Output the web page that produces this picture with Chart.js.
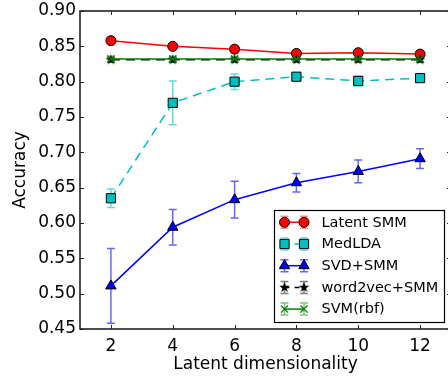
<!DOCTYPE html>
<html><head><meta charset="utf-8">
<script src="https://cdn.jsdelivr.net/npm/chart.js@4"></script>
<style>html,body{margin:0;padding:0;overflow:hidden;background:#fff;}#wrap{position:absolute;left:0;top:0;width:452px;height:381px;}</style>
</head><body><div id="wrap"><canvas id="c" width="452" height="381"></canvas></div>
<script>
const dims = [2, 4, 6, 8, 10, 12];
const yTicks = [0.45, 0.50, 0.55, 0.60, 0.65, 0.70, 0.75, 0.80, 0.85, 0.90];
const seriesNames = ['Latent SMM', 'MedLDA', 'SVD+SMM', 'word2vec+SMM', 'SVM(rbf)'];
const latentSMM = [0.858, 0.850, 0.846, 0.840, 0.841, 0.839];
const latentErr = [0.005, 0.004, 0.005, 0.003, 0.004, 0.004];
const medLDA = [0.635, 0.770, 0.800, 0.807, 0.801, 0.805];
const medErr = [0.013, 0.031, 0.011, 0.005, 0.007, 0.004];
const svdSMM = [0.511, 0.594, 0.633, 0.657, 0.673, 0.691];
const svdErr = [0.053, 0.025, 0.026, 0.013, 0.016, 0.014];
const w2vSMM = [0.831, 0.831, 0.831, 0.831, 0.831, 0.831];
const w2vErr = [0.003, 0.003, 0.003, 0.003, 0.003, 0.003];
const svmRbf = [0.832, 0.832, 0.832, 0.832, 0.832, 0.832];
const svmErr = [0.004, 0.004, 0.004, 0.004, 0.004, 0.004];

function starCanvas(R, r, fill) {
  const s = Math.ceil(R * 2 + 2);
  const cv = document.createElement('canvas');
  cv.width = s; cv.height = s;
  const g = cv.getContext('2d');
  g.beginPath();
  for (let i = 0; i < 10; i++) {
    const a = -Math.PI / 2 + i * Math.PI / 5;
    const rr = i % 2 === 0 ? R : r;
    const x = s / 2 + rr * Math.cos(a), y = s / 2 + rr * Math.sin(a);
    if (i === 0) g.moveTo(x, y); else g.lineTo(x, y);
  }
  g.closePath();
  g.fillStyle = fill; g.fill();
  return cv;
}
const star = starCanvas(5.5, 2.3, '#000');

function pts(arr) { return dims.map((d, i) => ({x: d, y: arr[i]})); }

const defs = [
  {label: seriesNames[0], data: latentSMM, err: latentErr, color: '#ff0000', errColor: 'rgba(255,0,0,0.45)', dash: [], style: 'circle', radius: 5, order: 5},
  {label: seriesNames[1], data: medLDA, err: medErr, color: '#00bfbf', errColor: 'rgba(0,191,191,0.6)', dash: [9, 6], style: 'rect', radius: 6.5, order: 4},
  {label: seriesNames[2], data: svdSMM, err: svdErr, color: '#0000ff', errColor: 'rgba(0,0,255,0.6)', dash: [], style: 'triangle', radius: 6, order: 3},
  {label: seriesNames[3], data: w2vSMM, err: w2vErr, color: '#000000', errColor: 'rgba(0,0,0,0.5)', dash: [9, 6], style: star, radius: 5, order: 2},
  {label: seriesNames[4], data: svmRbf, err: svmErr, color: '#008000', errColor: 'rgba(0,128,0,0.5)', dash: [], style: 'crossRot', radius: 5, order: 1}
];

const datasets = defs.map(d => ({
  label: d.label,
  data: pts(d.data),
  borderColor: d.color,
  backgroundColor: d.color,
  borderWidth: 1.5,
  borderDash: d.dash,
  pointStyle: d.style,
  pointRadius: d.radius,
  pointBackgroundColor: d.color,
  pointBorderColor: d.style === 'crossRot' ? d.color : '#000',
  pointBorderWidth: d.style === 'crossRot' ? 1.3 : 1,
  order: d.order,
  tension: 0,
  fill: false,
  errors: d.err,
  errColor: d.errColor
}));

const FONT = 'DejaVu Sans';

function drawErr(ctx, x, yTop, yBot, color) {
  ctx.save();
  ctx.strokeStyle = color; ctx.lineWidth = 1.5; ctx.setLineDash([]);
  ctx.beginPath();
  ctx.moveTo(x, yTop); ctx.lineTo(x, yBot);
  ctx.moveTo(x - 4, yTop); ctx.lineTo(x + 4, yTop);
  ctx.moveTo(x - 4, yBot); ctx.lineTo(x + 4, yBot);
  ctx.stroke();
  ctx.restore();
}

const plugin = {
  id: 'mpl',
  beforeDatasetsDraw(chart) {
    const {ctx, scales: {x, y}} = chart;
    chart.data.datasets.slice().reverse().forEach(ds => {
      ds.data.forEach((p, i) => {
        const px = x.getPixelForValue(p.x);
        drawErr(ctx, px, y.getPixelForValue(p.y + ds.errors[i]), y.getPixelForValue(p.y - ds.errors[i]), ds.errColor);
      });
    });
  },
  afterDatasetsDraw(chart) {
    const {ctx, chartArea: a, scales: {x, y}} = chart;
    ctx.save();
    ctx.strokeStyle = '#222'; ctx.lineWidth = 1; ctx.setLineDash([]);
    ctx.beginPath();
    dims.forEach(v => {
      const px = Math.round(x.getPixelForValue(v)) + 0.5;
      ctx.moveTo(px, a.bottom); ctx.lineTo(px, a.bottom - 4);
      ctx.moveTo(px, a.top); ctx.lineTo(px, a.top + 4);
    });
    yTicks.forEach(v => {
      const py = Math.round(y.getPixelForValue(v)) + 0.5;
      ctx.moveTo(a.left, py); ctx.lineTo(a.left + 4, py);
      ctx.moveTo(a.right, py); ctx.lineTo(a.right - 4, py);
    });
    ctx.stroke();
    ctx.lineWidth = 1.6;
    ctx.strokeRect(a.left, a.top, a.right - a.left, a.bottom - a.top);
    ctx.restore();
  },
  afterDraw(chart) {
    const {ctx} = chart;
    const bx = 274.5, by = 210.5, bw = 170, bh = 112;
    ctx.save();
    ctx.fillStyle = '#fff';
    ctx.fillRect(bx, by, bw, bh);
    ctx.strokeStyle = '#000'; ctx.lineWidth = 1.2;
    ctx.strokeRect(bx, by, bw, bh);
    const x1 = 284.5, x2 = 304;
    chart.data.datasets.forEach((ds, i) => {
      const cy = 222.3 + i * 21.7;
      drawErr(ctx, x1, cy - 6, cy + 6, ds.errColor);
      drawErr(ctx, x2, cy - 6, cy + 6, ds.errColor);
      ctx.save();
      ctx.strokeStyle = ds.borderColor; ctx.lineWidth = 1.5;
      ctx.setLineDash(ds.borderDash.length ? [5, 5] : []);
      ctx.beginPath(); ctx.moveTo(x1, cy); ctx.lineTo(x2, cy); ctx.stroke();
      ctx.restore();
      [x1, x2].forEach(mx => {
        ctx.save();
        ctx.fillStyle = ds.pointBackgroundColor;
        ctx.strokeStyle = ds.pointBorderColor;
        ctx.lineWidth = ds.pointBorderWidth;
        Chart.helpers.drawPoint(ctx, {pointStyle: ds.pointStyle, radius: ds.pointRadius, borderWidth: ds.pointBorderWidth, rotation: 0}, mx, cy);
        ctx.restore();
      });
      ctx.fillStyle = '#000';
      ctx.font = '14.5px "' + FONT + '"';
      ctx.textBaseline = 'middle';
      ctx.textAlign = 'left';
      ctx.fillText(ds.label, 321.5, cy + 0.5);
    });
    ctx.restore();
  }
};

new Chart(document.getElementById('c'), {
  type: 'line',
  data: {datasets},
  options: {
    responsive: false,
    animation: false,
    devicePixelRatio: 1,
    layout: {autoPadding: false, padding: {left: 0, right: 1, top: 11, bottom: 0}},
    plugins: {legend: {display: false}, tooltip: {enabled: false}},
    scales: {
      x: {
        type: 'linear', min: 1, max: 13,
        grid: {display: false, drawTicks: false},
        border: {display: false},
        afterBuildTicks: s => { s.ticks = dims.map(v => ({value: v})); },
        afterFit: s => { s.height = 52; s.paddingLeft = 0; s.paddingRight = 0; },
        ticks: {color: '#000', font: {family: FONT, size: 17}, padding: 7, maxRotation: 0, callback: v => String(v)},
        title: {display: true, text: 'Latent dimensionality', color: '#000', font: {family: FONT, size: 17}, padding: {top: 0, bottom: 6}}
      },
      y: {
        type: 'linear', min: 0.45, max: 0.90,
        grid: {display: false, drawTicks: false},
        border: {display: false},
        afterBuildTicks: s => { s.ticks = yTicks.map(v => ({value: v})); },
        afterFit: s => { s.width = 80; s.paddingTop = 0; s.paddingBottom = 0; },
        ticks: {color: '#000', font: {family: FONT, size: 17}, padding: 4, callback: v => Number(v).toFixed(2)},
        title: {display: true, text: 'Accuracy', color: '#000', font: {family: FONT, size: 17}, padding: {top: 10, bottom: 0}}
      }
    }
  },
  plugins: [plugin]
});
</script></body></html>
